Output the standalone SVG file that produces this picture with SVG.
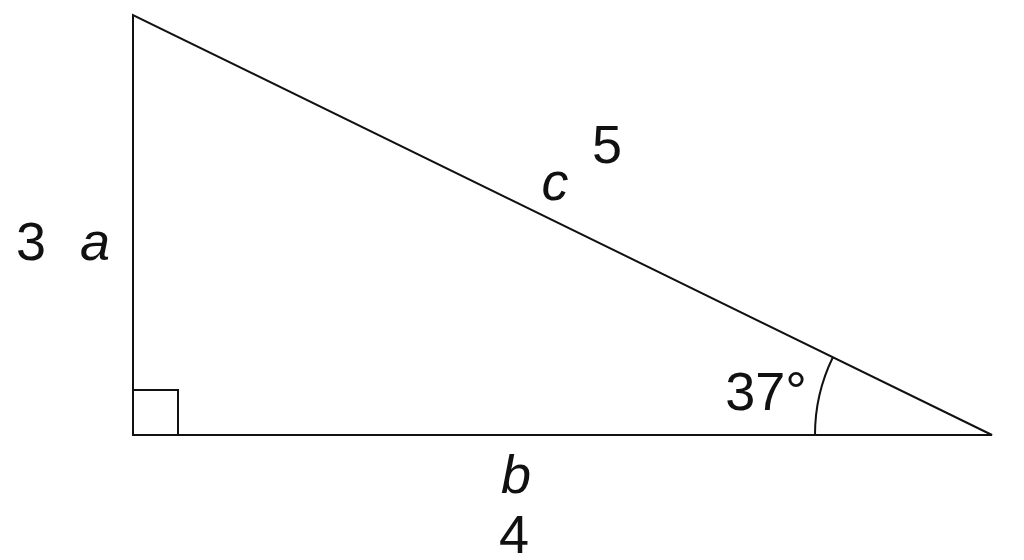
<svg xmlns="http://www.w3.org/2000/svg" width="1024" height="560" viewBox="0 0 1024 560">
<style>
.ln{fill:none;stroke:#111;stroke-width:2;stroke-linejoin:miter}
.t{font-family:"Liberation Sans",Arial,sans-serif;font-size:54px;fill:#111;text-anchor:middle}
.i{font-style:italic}
</style>
<rect width="1024" height="560" fill="#fff"/>
<g id="triangle">
<polygon class="ln" points="133,15 133,435 992,435"/>
<polyline class="ln" points="133,390 178,390 178,435"/>
<path class="ln" d="M815,435 A177,177 0 0 1 833,357"/>
</g>
<g id="labels">
<text class="t" x="31" y="260">3</text>
<text class="t i" x="95" y="260">a</text>
<text class="t i" x="555" y="200">c</text>
<text class="t" x="607" y="163">5</text>
<text class="t" x="766" y="410">37°</text>
<text class="t i" x="516" y="493">b</text>
<text class="t" x="514" y="553">4</text>
</g>
</svg>
